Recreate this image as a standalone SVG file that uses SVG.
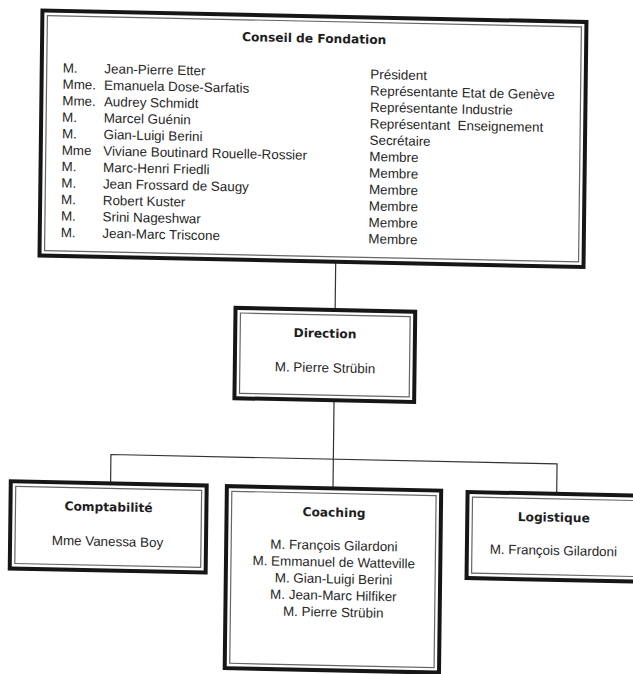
<svg xmlns="http://www.w3.org/2000/svg" width="633" height="674" viewBox="0 0 633 674">
<style>
.outer{fill:none;stroke:#161616;stroke-width:4}
.inner{fill:none;stroke:#666;stroke-width:1.2}
.conn{fill:none;stroke:#333;stroke-width:1.2}
.t{font-family:"DejaVu Sans",Verdana,sans-serif;font-weight:bold;font-size:12.2px;fill:#1e1e1e;text-anchor:middle}
.n{font-family:"Liberation Sans",Arial,sans-serif;font-size:13.4px;fill:#262626;white-space:pre}
.c{text-anchor:middle}
</style>
<rect width="633" height="674" fill="#fff"/>
<g transform="matrix(1,0.021,-0.012,1,4.04,-6.64)">
<g id="connectors">
<path class="conn" d="M334.8 261.3V309.6"/>
<path class="conn" d="M334.8 399.9V488"/>
<path class="conn" d="M112.4 487.7V458.8H558.5V488.8"/>
</g>
<g id="conseil">
<rect class="outer" x="38.6" y="16.4" width="544" height="245"/>
<rect class="inner" x="43.6" y="21.4" width="534" height="235"/>
<text class="t" x="310.6" y="42.7">Conseil de Fondation</text>
<text class="n" x="59.6" y="77.8">M.</text><text class="n" x="101.2" y="77.8">Jean-Pierre Etter</text><text class="n" x="367.2" y="77.8">Président</text>
<text class="n" x="59.6" y="94.25">Mme.</text><text class="n" x="101.2" y="94.25">Emanuela Dose-Sarfatis</text><text class="n" x="367.2" y="94.25">Représentante Etat de Genève</text>
<text class="n" x="59.6" y="110.7">Mme.</text><text class="n" x="101.2" y="110.7">Audrey Schmidt</text><text class="n" x="367.2" y="110.7">Représentante Industrie</text>
<text class="n" x="59.6" y="127.15">M.</text><text class="n" x="101.2" y="127.15">Marcel Guénin</text><text class="n" x="367.2" y="127.15">Représentant  Enseignement</text>
<text class="n" x="59.6" y="143.6">M.</text><text class="n" x="101.2" y="143.6">Gian-Luigi Berini</text><text class="n" x="367.2" y="143.6">Secrétaire</text>
<text class="n" x="59.6" y="160.05">Mme</text><text class="n" x="101.2" y="160.05">Viviane Boutinard Rouelle-Rossier</text><text class="n" x="367.2" y="160.05">Membre</text>
<text class="n" x="59.6" y="176.5">M.</text><text class="n" x="101.2" y="176.5">Marc-Henri Friedli</text><text class="n" x="367.2" y="176.5">Membre</text>
<text class="n" x="59.6" y="192.95">M.</text><text class="n" x="101.2" y="192.95">Jean Frossard de Saugy</text><text class="n" x="367.2" y="192.95">Membre</text>
<text class="n" x="59.6" y="209.4">M.</text><text class="n" x="101.2" y="209.4">Robert Kuster</text><text class="n" x="367.2" y="209.4">Membre</text>
<text class="n" x="59.6" y="225.85">M.</text><text class="n" x="101.2" y="225.85">Srini Nageshwar</text><text class="n" x="367.2" y="225.85">Membre</text>
<text class="n" x="59.6" y="242.3">M.</text><text class="n" x="101.2" y="242.3">Jean-Marc Triscone</text><text class="n" x="367.2" y="242.3">Membre</text>
</g>
<g id="direction">
<rect class="outer" x="235.2" y="309.6" width="179.7" height="90.3"/>
<rect class="inner" x="240.2" y="314.6" width="169.7" height="80.3"/>
<text class="t" x="325" y="337.5">Direction</text>
<text class="n c" x="325.4" y="372.1">M. Pierre Strübin</text>
</g>
<g id="comptabilite">
<rect class="outer" x="12.6" y="487.7" width="195.9" height="87.1"/>
<rect class="inner" x="17.6" y="492.7" width="185.9" height="77.1"/>
<text class="t" x="110.7" y="515.6">Comptabilité</text>
<text class="n c" x="110" y="550.4">Mme Vanessa Boy</text>
</g>
<g id="coaching">
<rect class="outer" x="228.7" y="488" width="214.3" height="182"/>
<rect class="inner" x="233.7" y="493" width="204.3" height="172"/>
<text class="t" x="336.2" y="516.3">Coaching</text>
<text class="n c" x="336.5" y="549.6">M. François Gilardoni</text>
<text class="n c" x="336.5" y="566.3">M. Emmanuel de Watteville</text>
<text class="n c" x="336.5" y="583">M. Gian-Luigi Berini</text>
<text class="n c" x="336.5" y="599.6">M. Jean-Marc Hilfiker</text>
<text class="n c" x="336.5" y="616.3">M. Pierre Strübin</text>
</g>
<g id="logistique">
<rect class="outer" x="469.4" y="488.8" width="175" height="86"/>
<rect class="inner" x="474.4" y="493.8" width="165" height="76"/>
<text class="t" x="555.9" y="516.7">Logistique</text>
<text class="n c" x="555.9" y="550">M. François Gilardoni</text>
</g>
</g>
</svg>
